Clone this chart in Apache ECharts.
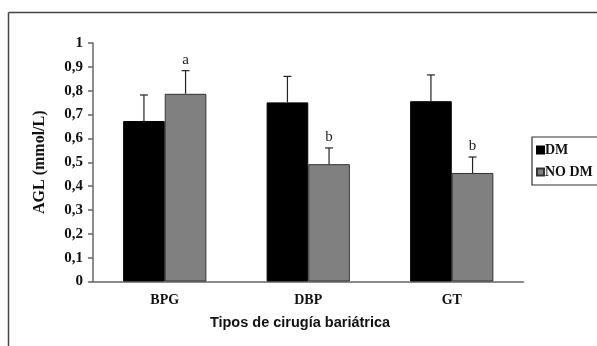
<!DOCTYPE html>
<html>
<head>
<meta charset="utf-8">
<script src="https://cdn.jsdelivr.net/npm/echarts@6/dist/echarts.min.js"></script>
<style>html,body{margin:0;padding:0;background:#fff}#c{width:597px;height:346px}</style>
</head>
<body>
<div id="c"></div>
<script>
var categories = ['BPG', 'DBP', 'GT'];
var seriesNames = ['DM', 'NO DM'];
var dmMeans = [0.673, 0.751, 0.756];
var dmErrTop = [0.782, 0.860, 0.866];
var noDmMeans = [0.787, 0.492, 0.455];
var noDmErrTop = [0.884, 0.560, 0.522];
var noDmLetters = ['a', 'b', 'b'];
var yTicks = ['0','0,1','0,2','0,3','0,4','0,5','0,6','0,7','0,8','0,9','1'];

var serif = '"Liberation Serif", "DejaVu Serif", serif';
var sans = '"Liberation Sans", Arial, sans-serif';
var catGap = 0.42;

function errSeries(means, tops, side, letters) {
  var data = means.map(function (m, i) { return [i, m, tops[i], letters ? letters[i] : '']; });
  return {
    type: 'custom',
    silent: true,
    z: 10,
    data: data,
    encode: { x: 0, y: [1, 2] },
    renderItem: function (params, api) {
      var i = api.value(0);
      var band = api.size([1, 0])[0];
      var bw = band * (1 - catGap) / 2;
      var c = api.coord([i, api.value(1)]);
      var t = api.coord([i, api.value(2)]);
      var x = c[0] + side * bw / 2;
      var cap = 4;
      var children = [
        { type: 'line', shape: { x1: x, y1: c[1], x2: x, y2: t[1] }, style: { stroke: '#222', lineWidth: 1.2 } },
        { type: 'line', shape: { x1: x - cap, y1: t[1], x2: x + cap, y2: t[1] }, style: { stroke: '#222', lineWidth: 1.2 } }
      ];
      var lab = data[params.dataIndex][3];
      if (lab) {
        children.push({ type: 'text', x: x, y: t[1] - 3, style: { text: lab, fontFamily: serif, fontSize: 15, fill: '#222', align: 'center', verticalAlign: 'bottom' } });
      }
      return { type: 'group', children: children };
    }
  };
}

var chart = echarts.init(document.getElementById('c'), null, { renderer: 'canvas' });
chart.setOption({
  animation: false,
  backgroundColor: '#fff',
  grid: { left: 93, right: 73.5, top: 43, bottom: 64.5, containLabel: false },
  legend: {
    orient: 'vertical',
    left: 532,
    top: 137,
    data: seriesNames,
    itemWidth: 7,
    itemHeight: 7,
    itemGap: 8,
    padding: [6, 20, 6, 4],
    borderColor: '#333',
    borderWidth: 1.2,
    borderRadius: 0,
    icon: 'rect',
    textStyle: { fontFamily: serif, fontWeight: 'bold', fontSize: 14, color: '#111', padding: [0, 0, 0, -4] }
  },
  xAxis: {
    type: 'category',
    data: categories,
    axisLine: { lineStyle: { color: '#666', width: 1.5 } },
    axisTick: { show: false },
    axisLabel: { fontFamily: serif, fontWeight: 'bold', fontSize: 14, color: '#111', margin: 12 }
  },
  yAxis: {
    type: 'value',
    min: 0, max: 1, interval: 0.1,
    name: 'AGL (mmol/L)',
    nameLocation: 'middle',
    nameGap: 45,
    nameTextStyle: { fontFamily: serif, fontWeight: 'bold', fontSize: 16, color: '#111' },
    splitLine: { show: false },
    axisLine: { show: true, lineStyle: { color: '#666', width: 1.5 } },
    axisTick: { show: true, length: 5, lineStyle: { color: '#666', width: 1.5 } },
    axisLabel: {
      fontFamily: serif, fontWeight: 'bold', fontSize: 15, color: '#111', margin: 10,
      formatter: function (v) { return yTicks[Math.round(v * 10)]; }
    }
  },
  series: [
    { name: seriesNames[0], type: 'bar', data: dmMeans, barGap: '0%', barCategoryGap: '42%',
      itemStyle: { color: '#000', borderColor: '#000', borderWidth: 1 } },
    { name: seriesNames[1], type: 'bar', data: noDmMeans, barGap: '0%', barCategoryGap: '42%',
      itemStyle: { color: '#808080', borderColor: '#333', borderWidth: 1 } },
    errSeries(dmMeans, dmErrTop, -1, null),
    errSeries(noDmMeans, noDmErrTop, 1, noDmLetters)
  ],
  graphic: [
    { type: 'line', shape: { x1: 8.5, y1: 12.5, x2: 597, y2: 12.5 }, style: { stroke: '#444', lineWidth: 1.5 } },
    { type: 'line', shape: { x1: 8.5, y1: 12.5, x2: 8.5, y2: 346 }, style: { stroke: '#444', lineWidth: 1.5 } },
    { type: 'text', x: 300, y: 323, style: { text: 'Tipos de cirugía bariátrica', fontFamily: sans, fontWeight: 'bold', fontSize: 14.5, fill: '#111', align: 'center', verticalAlign: 'middle' } }
  ]
});
</script>
</body>
</html>
